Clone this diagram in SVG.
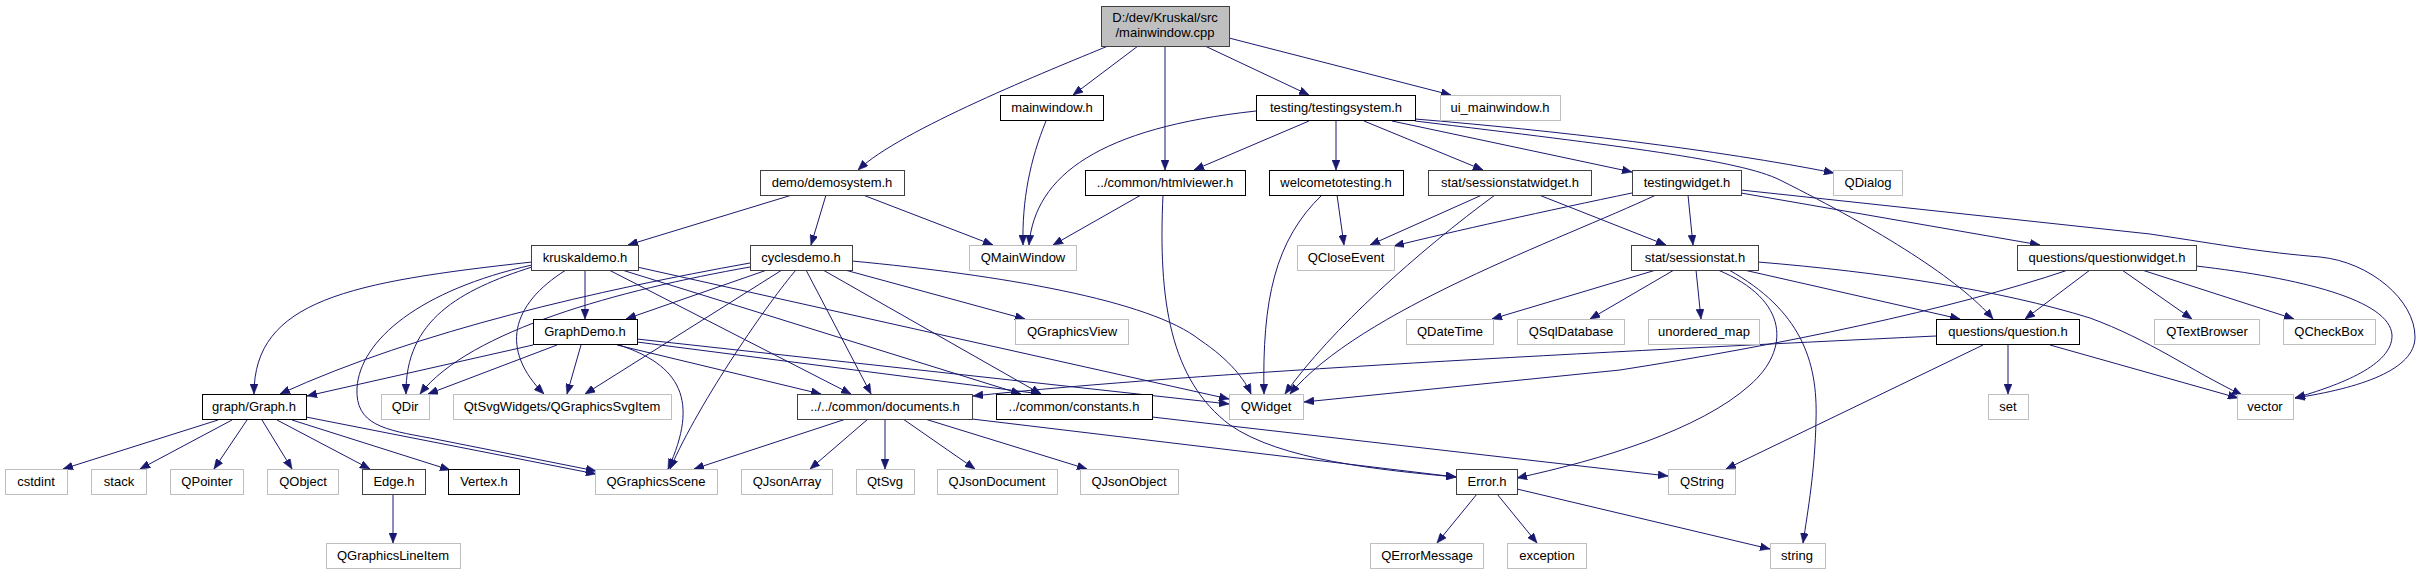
<svg xmlns="http://www.w3.org/2000/svg" width="2421" height="575" viewBox="0 0 2421 575">
<defs>
<style>
.k rect{fill:#fff;stroke:#000;stroke-width:1}
.d rect{fill:#fff;stroke:#404040;stroke-width:1}
.g rect{fill:#fff;stroke:#bfbfbf;stroke-width:1}
text{font-family:"Liberation Sans",Arial,Helvetica,sans-serif;font-size:13px;fill:#000;text-anchor:middle}
#edges path{fill:none;stroke:#191970;stroke-width:1;marker-end:url(#ah)}
</style>
<marker id="ah" viewBox="0 0 10 8" refX="10" refY="4" markerWidth="10" markerHeight="8" markerUnits="userSpaceOnUse" orient="auto">
<path d="M0,0 L10,4 L0,8 z" fill="#191970" stroke="#191970" stroke-width="0.5"/>
</marker>
</defs>
<rect x="0" y="0" width="2421" height="575" fill="#fff"/>
<g id="edges">
<path d="M1108,46 C1050,70 900,130 858,170"/>
<path d="M1138,46 L1073,95"/>
<path d="M1165,46 L1165,170"/>
<path d="M1205,46 L1309,95"/>
<path d="M1229,38 L1451,95"/>
<path d="M1046,121 C1030,160 1022,200 1023,245"/>
<path d="M863,195 L993,245"/>
<path d="M792,195 L628,245"/>
<path d="M826,195 L811,245"/>
<path d="M1256,111 C1100,128 1035,175 1029,245"/>
<path d="M1309,121 L1194,170"/>
<path d="M1336,121 L1336,170"/>
<path d="M1364,121 L1483,170"/>
<path d="M1392,121 L1632,172"/>
<path d="M1415,119 C1550,130 1720,150 1834,173"/>
<path d="M1415,121 C1620,146 1740,160 1780,180 C1880,230 1960,280 1993,319"/>
<path d="M1141,195 L1053,245"/>
<path d="M1163,195 C1158,300 1170,380 1230,425 C1280,460 1380,470 1456,477"/>
<path d="M1337,195 L1344,245"/>
<path d="M1322,195 C1275,240 1262,300 1264,394"/>
<path d="M1482,195 L1370,245"/>
<path d="M1495,195 C1420,250 1330,330 1285,394"/>
<path d="M1539,195 L1666,245"/>
<path d="M1632,193 C1550,210 1450,232 1394,246"/>
<path d="M1656,195 C1560,240 1360,310 1290,394"/>
<path d="M1688,195 L1693,245"/>
<path d="M1741,193 L2040,245"/>
<path d="M1741,190 L2150,234 C2230,246 2260,252 2320,257 C2370,262 2415,300 2415,337 C2415,370 2360,388 2295,398"/>
<path d="M585,270 L585,319"/>
<path d="M532,262 C350,282 254,300 254,394"/>
<path d="M532,267 C460,290 405,320 406,394"/>
<path d="M566,270 C510,305 500,350 544,394"/>
<path d="M532,265 C420,290 360,340 357,388 C355,425 385,430 430,438 L596,471"/>
<path d="M609,270 L851,394"/>
<path d="M622,270 L1021,394"/>
<path d="M637,267 L1229,399"/>
<path d="M767,270 L626,319"/>
<path d="M750,263 C600,290 420,330 280,394"/>
<path d="M750,267 C620,290 470,330 420,394"/>
<path d="M782,270 L585,394"/>
<path d="M796,270 C770,300 700,400 670,469"/>
<path d="M806,270 L871,394"/>
<path d="M823,270 L1041,394"/>
<path d="M845,270 L1025,319"/>
<path d="M852,261 C1000,275 1150,300 1200,340 C1230,360 1245,380 1251,394"/>
<path d="M1656,270 L1492,319"/>
<path d="M1674,270 L1590,319"/>
<path d="M1696,270 L1701,319"/>
<path d="M1744,270 L1960,319"/>
<path d="M1718,270 C1790,300 1790,350 1750,385 C1700,430 1600,460 1517,478"/>
<path d="M1729,270 C1800,310 1818,360 1816,420 C1815,470 1808,510 1803,543"/>
<path d="M1758,262 C1880,272 2000,290 2090,318 C2150,340 2190,370 2242,395"/>
<path d="M2068,270 C1950,310 1780,345 1620,370 L1304,402"/>
<path d="M2090,270 L2025,319"/>
<path d="M2122,270 L2192,319"/>
<path d="M2142,270 L2294,319"/>
<path d="M2196,266 C2300,278 2390,300 2392,335 C2393,365 2340,385 2295,398"/>
<path d="M533,345 L307,396"/>
<path d="M557,345 L428,394"/>
<path d="M581,345 L567,394"/>
<path d="M619,345 C680,365 700,400 668,469"/>
<path d="M617,345 L821,394"/>
<path d="M637,342 L1041,394"/>
<path d="M637,339 L1229,404"/>
<path d="M1936,336 C1600,352 1200,372 973,396"/>
<path d="M2008,345 L2008,394"/>
<path d="M2050,345 L2238,398"/>
<path d="M1983,345 L1726,469"/>
<path d="M218,420 L63,469"/>
<path d="M232,420 L140,469"/>
<path d="M247,420 L214,469"/>
<path d="M262,420 L292,469"/>
<path d="M277,420 L370,469"/>
<path d="M292,420 L450,470"/>
<path d="M306,417 L596,474"/>
<path d="M846,419 L694,469"/>
<path d="M868,419 L810,469"/>
<path d="M885,419 L885,469"/>
<path d="M903,419 L975,469"/>
<path d="M925,419 L1087,469"/>
<path d="M972,419 L1456,477"/>
<path d="M1152,417 L1668,476"/>
<path d="M393,494 L393,543"/>
<path d="M1477,494 L1437,543"/>
<path d="M1497,494 L1537,543"/>
<path d="M1517,489 L1770,549"/>
</g>
<g id="n_main" class="d"><rect x="1101.5" y="6.5" width="128" height="40" style="fill:#bfbfbf"/><text x="1165" y="22">D:/dev/Kruskal/src</text><text x="1165" y="37">/mainwindow.cpp</text></g>
<g id="n_mainwindow_h" class="k"><rect x="1000.5" y="95.5" width="103" height="25"/><text x="1052" y="112">mainwindow.h</text></g>
<g id="n_testingsystem" class="k"><rect x="1256.5" y="95.5" width="159" height="25"/><text x="1336" y="112">testing/testingsystem.h</text></g>
<g id="n_ui_mainwindow" class="g"><rect x="1440.5" y="95.5" width="120" height="25"/><text x="1500" y="112">ui_mainwindow.h</text></g>
<g id="n_demosystem" class="d"><rect x="760.5" y="170.5" width="144" height="25"/><text x="832" y="187">demo/demosystem.h</text></g>
<g id="n_htmlviewer" class="k"><rect x="1085.5" y="170.5" width="160" height="25"/><text x="1165" y="187">../common/htmlviewer.h</text></g>
<g id="n_welcometotesting" class="k"><rect x="1269.5" y="170.5" width="134" height="25"/><text x="1336" y="187">welcometotesting.h</text></g>
<g id="n_sessionstatwidget" class="d"><rect x="1428.5" y="170.5" width="163" height="25"/><text x="1510" y="187">stat/sessionstatwidget.h</text></g>
<g id="n_testingwidget" class="d"><rect x="1632.5" y="170.5" width="109" height="25"/><text x="1687" y="187">testingwidget.h</text></g>
<g id="n_QDialog" class="g"><rect x="1833.5" y="170.5" width="69" height="25"/><text x="1868" y="187">QDialog</text></g>
<g id="n_kruskaldemo" class="d"><rect x="531.5" y="245.5" width="107" height="25"/><text x="585" y="262">kruskaldemo.h</text></g>
<g id="n_cyclesdemo" class="d"><rect x="750.5" y="245.5" width="102" height="25"/><text x="801" y="262">cyclesdemo.h</text></g>
<g id="n_QMainWindow" class="g"><rect x="969.5" y="245.5" width="107" height="25"/><text x="1023" y="262">QMainWindow</text></g>
<g id="n_QCloseEvent" class="g"><rect x="1297.5" y="245.5" width="97" height="25"/><text x="1346" y="262">QCloseEvent</text></g>
<g id="n_sessionstat" class="d"><rect x="1631.5" y="245.5" width="127" height="25"/><text x="1695" y="262">stat/sessionstat.h</text></g>
<g id="n_questionwidget" class="d"><rect x="2017.5" y="245.5" width="179" height="25"/><text x="2107" y="262">questions/questionwidget.h</text></g>
<g id="n_GraphDemo" class="k"><rect x="533.5" y="319.5" width="104" height="25"/><text x="585" y="336">GraphDemo.h</text></g>
<g id="n_QGraphicsView" class="g"><rect x="1015.5" y="319.5" width="113" height="25"/><text x="1072" y="336">QGraphicsView</text></g>
<g id="n_QDateTime" class="g"><rect x="1406.5" y="319.5" width="87" height="25"/><text x="1450" y="336">QDateTime</text></g>
<g id="n_QSqlDatabase" class="g"><rect x="1517.5" y="319.5" width="107" height="25"/><text x="1571" y="336">QSqlDatabase</text></g>
<g id="n_unordered_map" class="g"><rect x="1648.5" y="319.5" width="111" height="25"/><text x="1704" y="336">unordered_map</text></g>
<g id="n_question" class="k"><rect x="1936.5" y="319.5" width="143" height="25"/><text x="2008" y="336">questions/question.h</text></g>
<g id="n_QTextBrowser" class="g"><rect x="2154.5" y="319.5" width="105" height="25"/><text x="2207" y="336">QTextBrowser</text></g>
<g id="n_QCheckBox" class="g"><rect x="2283.5" y="319.5" width="92" height="25"/><text x="2329" y="336">QCheckBox</text></g>
<g id="n_Graph" class="k"><rect x="202.5" y="394.5" width="104" height="25"/><text x="254" y="411">graph/Graph.h</text></g>
<g id="n_QDir" class="g"><rect x="381.5" y="394.5" width="48" height="25"/><text x="405" y="411">QDir</text></g>
<g id="n_QGraphicsSvgItem" class="g"><rect x="453.5" y="394.5" width="218" height="25"/><text x="562" y="411">QtSvgWidgets/QGraphicsSvgItem</text></g>
<g id="n_documents" class="d"><rect x="797.5" y="394.5" width="175" height="25"/><text x="885" y="411">../../common/documents.h</text></g>
<g id="n_constants" class="k"><rect x="996.5" y="394.5" width="156" height="25"/><text x="1074" y="411">../common/constants.h</text></g>
<g id="n_QWidget" class="g"><rect x="1229.5" y="394.5" width="74" height="25"/><text x="1266" y="411">QWidget</text></g>
<g id="n_set" class="g"><rect x="1988.5" y="394.5" width="40" height="25"/><text x="2008" y="411">set</text></g>
<g id="n_vector" class="g"><rect x="2237.5" y="394.5" width="56" height="25"/><text x="2265" y="411">vector</text></g>
<g id="n_cstdint" class="g"><rect x="5.5" y="469.5" width="62" height="25"/><text x="36" y="486">cstdint</text></g>
<g id="n_stack" class="g"><rect x="91.5" y="469.5" width="55" height="25"/><text x="119" y="486">stack</text></g>
<g id="n_QPointer" class="g"><rect x="170.5" y="469.5" width="73" height="25"/><text x="207" y="486">QPointer</text></g>
<g id="n_QObject" class="g"><rect x="267.5" y="469.5" width="71" height="25"/><text x="303" y="486">QObject</text></g>
<g id="n_Edge" class="d"><rect x="362.5" y="469.5" width="63" height="25"/><text x="394" y="486">Edge.h</text></g>
<g id="n_Vertex" class="k"><rect x="448.5" y="469.5" width="71" height="25"/><text x="484" y="486">Vertex.h</text></g>
<g id="n_QGraphicsScene" class="g"><rect x="595.5" y="469.5" width="122" height="25"/><text x="656" y="486">QGraphicsScene</text></g>
<g id="n_QJsonArray" class="g"><rect x="741.5" y="469.5" width="91" height="25"/><text x="787" y="486">QJsonArray</text></g>
<g id="n_QtSvg" class="g"><rect x="856.5" y="469.5" width="58" height="25"/><text x="885" y="486">QtSvg</text></g>
<g id="n_QJsonDocument" class="g"><rect x="937.5" y="469.5" width="120" height="25"/><text x="997" y="486">QJsonDocument</text></g>
<g id="n_QJsonObject" class="g"><rect x="1080.5" y="469.5" width="98" height="25"/><text x="1129" y="486">QJsonObject</text></g>
<g id="n_Error" class="d"><rect x="1456.5" y="469.5" width="61" height="25"/><text x="1487" y="486">Error.h</text></g>
<g id="n_QString" class="g"><rect x="1668.5" y="469.5" width="67" height="25"/><text x="1702" y="486">QString</text></g>
<g id="n_QGraphicsLineItem" class="g"><rect x="326.5" y="543.5" width="134" height="25"/><text x="393" y="560">QGraphicsLineItem</text></g>
<g id="n_QErrorMessage" class="g"><rect x="1370.5" y="543.5" width="113" height="25"/><text x="1427" y="560">QErrorMessage</text></g>
<g id="n_exception" class="g"><rect x="1507.5" y="543.5" width="79" height="25"/><text x="1547" y="560">exception</text></g>
<g id="n_string" class="g"><rect x="1770.5" y="543.5" width="55" height="25"/><text x="1797" y="560">string</text></g>
</svg>
